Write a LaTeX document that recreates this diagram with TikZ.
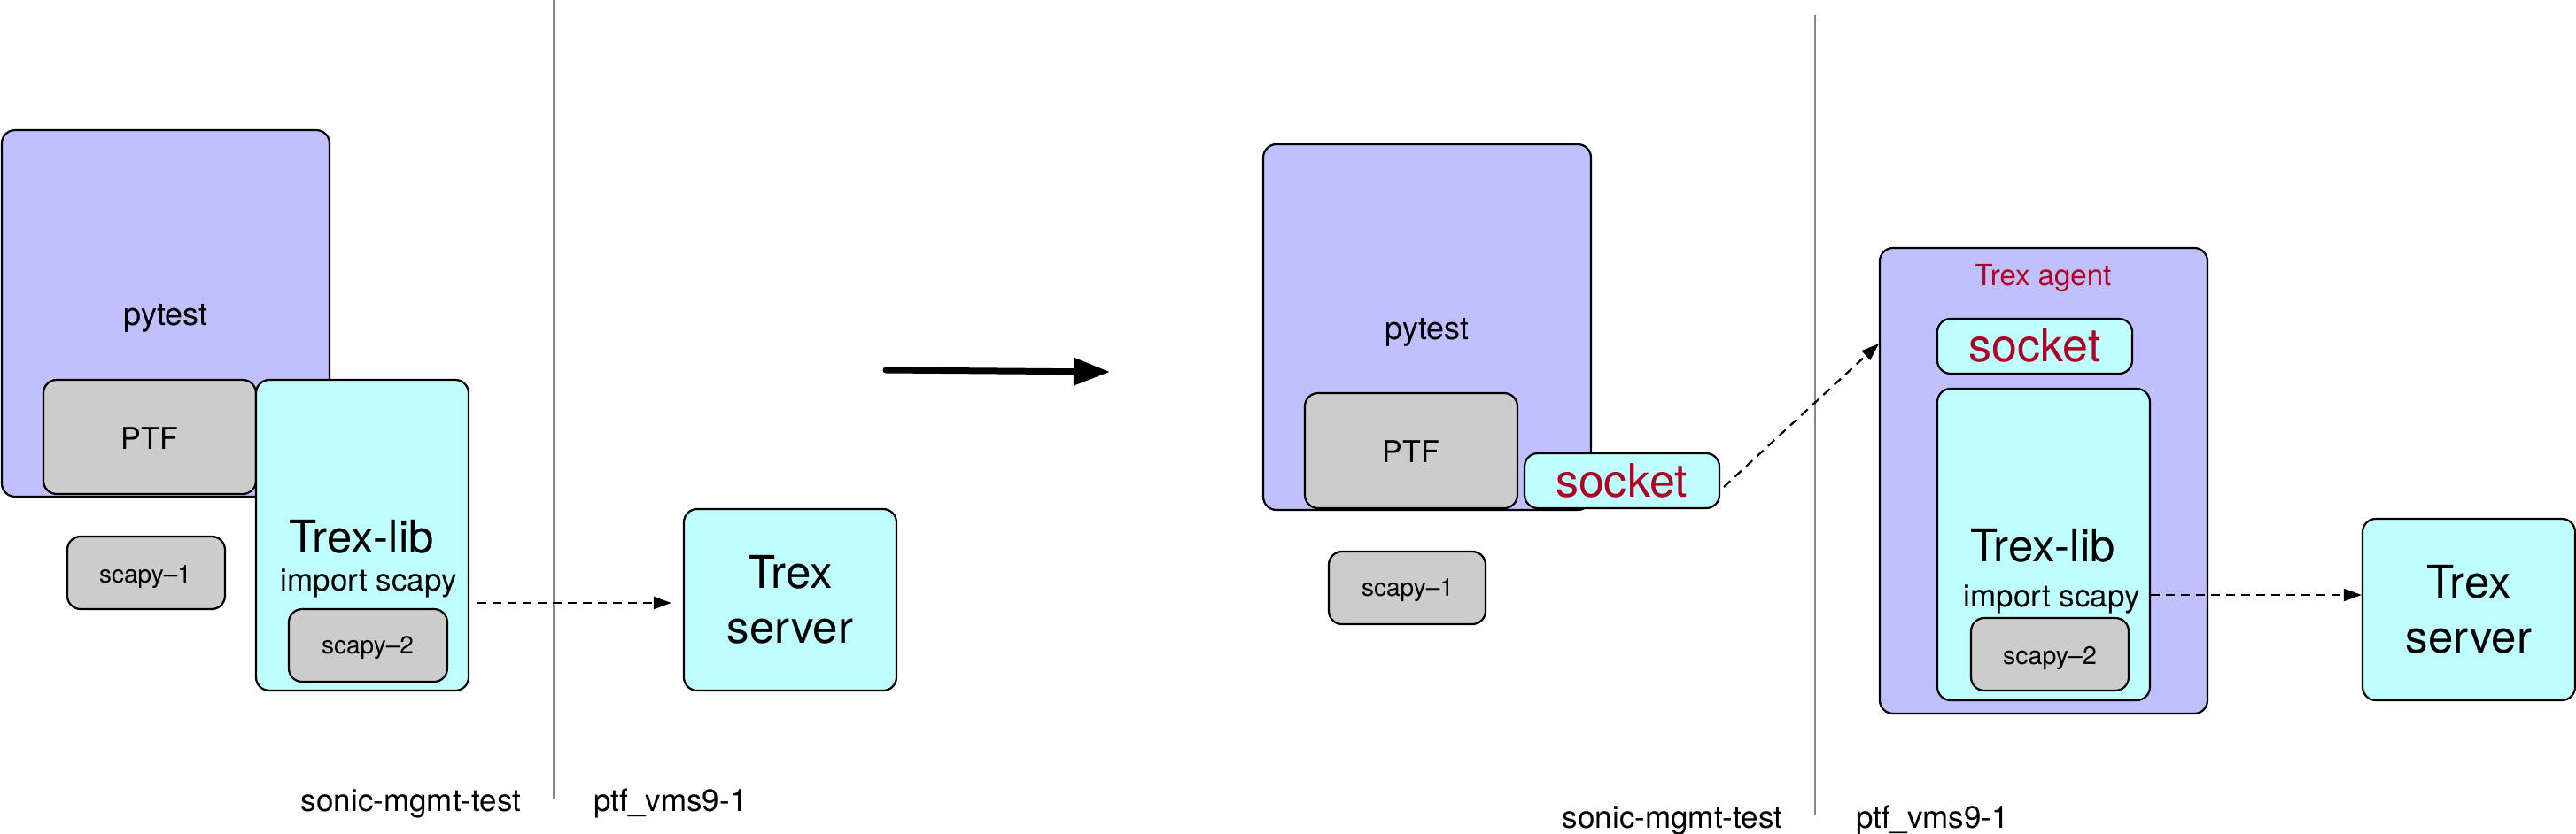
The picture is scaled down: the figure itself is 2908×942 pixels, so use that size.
\documentclass[tikz,border=0pt]{standalone}
\usepackage{fontspec}
\setmainfont{TeX Gyre Heros}
\usetikzlibrary{arrows.meta}
\definecolor{purp}{RGB}{192,192,255}
\definecolor{cyanb}{RGB}{192,255,255}
\definecolor{grayb}{RGB}{204,204,204}
\definecolor{redt}{RGB}{176,0,36}
\definecolor{divc}{RGB}{136,136,136}
\tikzset{
  basebox/.style={draw=black, line width=2.2pt, rounded corners=15pt, inner sep=0pt},
  pbox/.style={basebox, fill=purp},
  cbox/.style={basebox, fill=cyanb},
  gbox/.style={basebox, fill=grayb},
  sz/.style 2 args={minimum width=#1pt, minimum height=#2pt},
  txt/.style={anchor=base, inner sep=0pt, font=\fontsize{#1}{#1}\selectfont},
  divider/.style={draw=divc, line width=2pt},
  dasharrow/.style={line width=2.2pt, dash pattern=on 10pt off 7pt, -{Triangle[length=20pt,width=14pt]}},
  bigarrow/.style={line width=7pt, line cap=round, -{Triangle[length=41pt,width=30pt]}}
}
\begin{document}
\begin{tikzpicture}[x=1pt,y=-1pt]
\useasboundingbox (0,0) rectangle (2908,942);

% ---------- left panel ----------
\node[pbox, sz={370}{414}] (pytestA) at (187,354) {};
\node[txt=36] (pytestAt) at (187,367) {pytest};
\node[gbox, sz={240}{129}] (ptfA) at (169,493.5) {};
\node[txt=34] (ptfAt) at (169,507) {PTF};
\node[cbox, sz={240}{351}] (libA) at (409,604.5) {};
\node[txt=51] (libAt) at (408,624) {Trex-lib};
\node[txt=35] (impA) at (416,667) {import scapy};
\node[gbox, sz={178}{82}] (scapyA1) at (165,647) {};
\node[txt=28] (scapyA1t) at (164,658) {scapy\textendash 1};
\node[gbox, sz={179}{82}] (scapyA2) at (415.5,729) {};
\node[txt=28] (scapyA2t) at (415,738) {scapy\textendash 2};

\coordinate (divAtop) at (625,0);
\coordinate (divAbot) at (625,902);
\draw[divider] (divAtop) -- (divAbot);

\node[cbox, sz={240}{205}, align=center, font=\fontsize{51}{62}\selectfont] (serverA) at (892,677.5) {Trex\\server};
\coordinate (arrA) at (539,681);
\draw[dasharrow, shorten >=13pt] (arrA) -- (arrA -| serverA.west);

\node[txt=35] (hostA) at (464,916) {sonic-mgmt-test};
\node[txt=35] (ptfvmA) at (757,916) {ptf\_vms9-1};

% ---------- big arrow ----------
\coordinate (bigS) at (1000,418);
\coordinate (bigE) at (1253,420);
\draw[bigarrow] (bigS) -- (bigE);

% ---------- right panel ----------
\node[pbox, sz={370}{413}] (pytestB) at (1611,369.5) {};
\node[txt=36] (pytestBt) at (1611,383) {pytest};
\node[gbox, sz={240}{130}] (ptfB) at (1593,509) {};
\node[txt=34] (ptfBt) at (1593,522) {PTF};
\node[cbox, sz={220}{62}] (socketB) at (1831,543) {};
\node[txt=52, text=redt] (socketBt) at (1830.5,561) {socket};
\node[gbox, sz={177}{82}] (scapyB1) at (1588.5,664) {};
\node[txt=28] (scapyB1t) at (1589,673) {scapy\textendash 1};

\coordinate (divBtop) at (2049,17);
\coordinate (divBbot) at (2049,921);
\draw[divider] (divBtop) -- (divBbot);

\node[pbox, sz={370}{526}] (agent) at (2307,543) {};
\node[txt=33, text=redt] (agentt) at (2306.5,322) {Trex agent};
\node[cbox, sz={220}{62}] (socketC) at (2297,391) {};
\node[txt=52, text=redt] (socketCt) at (2297,408) {socket};
\node[cbox, sz={240}{352}] (libB) at (2307,615) {};
\node[txt=51] (libBt) at (2306,634) {Trex-lib};
\node[txt=35] (impB) at (2316,685) {import scapy};
\node[gbox, sz={178}{82}] (scapyB2) at (2314,739) {};
\node[txt=28.5] (scapyB2t) at (2314,750) {scapy\textendash 2};

\node[cbox, sz={240}{205}, align=center, font=\fontsize{51}{62}\selectfont] (serverB) at (2787,688.5) {Trex\\server};

\coordinate (sockOut) at (1946,550);
\coordinate (agentIn) at (2121,388);
\draw[dasharrow] (sockOut) -- (agentIn);
\coordinate (arrB) at (2428,672);
\draw[dasharrow] (arrB) -- (arrB -| serverB.west);

\node[txt=35] (hostB) at (1888,935) {sonic-mgmt-test};
\node[txt=35] (ptfvmB) at (2181.5,935) {ptf\_vms9-1};
\end{tikzpicture}
\end{document}
